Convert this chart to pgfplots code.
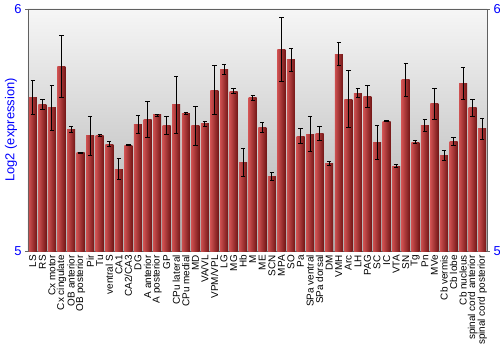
\documentclass[border=0pt]{standalone}
\usepackage{pgfplots}
\pgfplotsset{compat=1.18}
\usepackage{pgfplotstable}
\usepackage{fontspec}
\setmainfont{Liberation Sans}
\pgfplotstableread{
x y e
0 5.635 0.071
1 5.606 0.020
2 5.591 0.094
3 5.761 0.128
4 5.501 0.012
5 5.405 0.003
6 5.476 0.082
7 5.476 0.004
8 5.442 0.009
9 5.338 0.044
10 5.438 0.002
11 5.524 0.037
12 5.543 0.073
13 5.562 0.004
14 5.518 0.036
15 5.604 0.117
16 5.568 0.004
17 5.517 0.082
18 5.525 0.010
19 5.664 0.101
20 5.750 0.021
21 5.660 0.011
22 5.365 0.058
23 5.633 0.010
24 5.510 0.022
25 5.307 0.016
26 5.834 0.133
27 5.790 0.047
28 5.475 0.030
29 5.482 0.072
30 5.485 0.028
31 5.362 0.010
32 5.814 0.049
33 5.628 0.119
34 5.652 0.019
35 5.638 0.046
36 5.449 0.070
37 5.536 0.002
38 5.351 0.006
39 5.707 0.068
40 5.449 0.006
41 5.519 0.023
42 5.608 0.065
43 5.396 0.020
44 5.453 0.017
45 5.693 0.066
46 5.591 0.035
47 5.505 0.044
}\datatab
\definecolor{barL}{RGB}{205,80,80}
\definecolor{barR}{RGB}{115,22,22}
\begin{document}
\begin{tikzpicture}
\useasboundingbox (-28bp,-99bp) rectangle (472bp,251bp);
\begin{axis}[
  at={(0,0)}, anchor=south west, scale only axis,
  width=459bp, height=242bp,
  xmin=-0.5, xmax=47.5, ymin=5, ymax=6,
  xtick={0,...,47},
  xticklabels={LS,RS,Cx motor,Cx cingulate,OB anterior,OB posterior,Pir,Tu,ventral S,CA1,CA2/CA3,DG,A anterior,A posterior,GP,CPu lateral,CPu medial,MD,VA/VL,VPM/VPL,LG,MG,Hb,M,ME,SCN,MPA,SO,Pa,SPa ventral,SPa dorsal,DM,VMH,Arc,LH,PAG,SC,IC,VTA,SN,Tg,Pn,MVe,Cb vermis,Cb lobe,Cb nucleus,spinal cord anterior,spinal cord posterior},
  x tick label style={rotate=90, anchor=east, font=\fontsize{10}{10}\selectfont, inner sep=1bp},
  major x tick style={draw=none},
  xtick pos=bottom,
  ytick={5,6}, ytick pos=left, yticklabel pos=left,
  y tick label style={text=blue, font=\fontsize{13}{13}\selectfont},
  tick align=outside, major tick length=3bp,
  y tick style={gray!80!black},
  ylabel={Log2 (expression)},
  every axis y label/.style={at={(axis description cs:-0.037,0.5)}, rotate=90, anchor=center, text=blue, font=\fontsize{13}{13}\selectfont},
  axis line style={gray!75!black},
  axis background/.style={top color=gray!7, bottom color=gray!62},
  /pgf/number format/assume math mode=true,
]
\pgfplotsinvokeforeach{0,...,47}{
  \addplot[ybar, bar width=8bp, bar shift=0pt, draw=none, left color=barL, right color=barR, restrict expr to domain={\coordindex}{#1:#1}, forget plot] table[x=x,y=y]{\datatab};
}
\addplot[draw=none, mark=none, forget plot,
  error bars/.cd, y dir=both, y explicit,
  error bar style={black, line width=0.9bp},
  error mark=-,
  error mark options={black, line width=0.9bp, mark size=2.2bp, rotate=90}]
  table[x=x,y=y,y error=e]{\datatab};
\end{axis}
\begin{axis}[
  at={(0,0)}, anchor=south west, scale only axis,
  width=459bp, height=242bp,
  xmin=-0.5, xmax=47.5, ymin=5, ymax=6,
  hide x axis, axis y line*=right,
  ytick={5,6},
  y tick label style={text=blue, font=\fontsize{13}{13}\selectfont},
  tick align=outside, major tick length=3bp,
  y tick style={gray!80!black},
  y axis line style={gray!75!black},
  /pgf/number format/assume math mode=true,
]
\addplot[draw=none] coordinates {(0,5)};
\end{axis}
\end{tikzpicture}
\end{document}
